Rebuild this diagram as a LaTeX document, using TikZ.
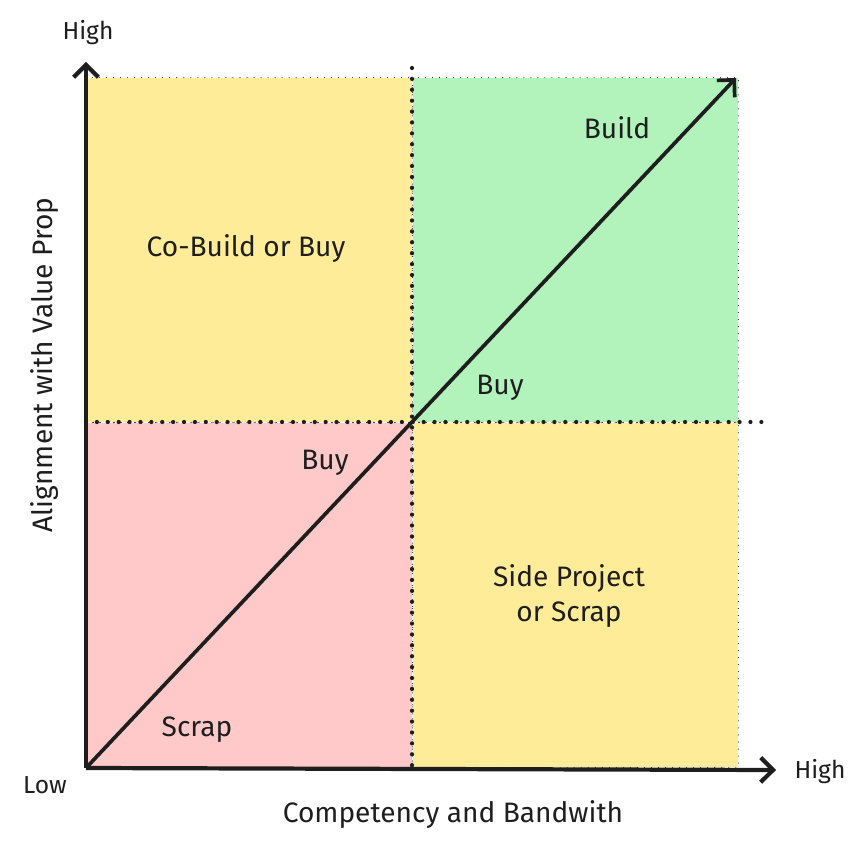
\documentclass[tikz,border=0pt]{standalone}
\usepackage{fontspec}
\setmainfont{Fira Sans}
\usepackage{tikz}
\usetikzlibrary{arrows.meta,positioning}

\definecolor{quadyellow}{HTML}{FFEC99}
\definecolor{quadgreen}{HTML}{B2F2BB}
\definecolor{quadred}{HTML}{FFC9C9}
\definecolor{ink}{HTML}{1E1E1E}

\tikzstyle{quad} = [draw=ink, line width=0.6pt, dash pattern=on 0pt off 4pt, line cap=round, minimum width=6.52cm, minimum height=6.9cm, inner sep=0pt]
\tikzstyle{axis} = [ink, line width=2.4pt, -{Straight Barb[length=7pt,width=14pt]}]
\tikzstyle{divider} = [ink, line width=2.4pt, dash pattern=on 0pt off 6.2pt, line cap=round]
\tikzstyle{lbl} = [font=\fontsize{16}{20}\selectfont, text=ink, align=center]
\tikzstyle{ends} = [font=\fontsize{14}{17}\selectfont, text=ink]

\begin{document}
\begin{tikzpicture}[x=0.02cm, y=-0.02cm]
    \useasboundingbox (0,0) rectangle (868,854);

    % quadrants
    \node[quad, fill=quadyellow, anchor=north west] (cobuild) at (86,77) {};
    \node[quad, fill=quadgreen, anchor=north west] (build) at (412,77) {};
    \node[quad, fill=quadred, anchor=north west] (scrap) at (86,422) {};
    \node[quad, fill=quadyellow, anchor=north west] (side) at (412,422) {};

    % dividers
    \coordinate (vtop) at (412,68);
    \coordinate (vbot) at (412,768);
    \coordinate (hleft) at (86,422);
    \coordinate (hright) at (768,422);
    \draw[divider] (vtop) -- (vbot);
    \draw[divider] (hleft) -- (hright);

    % axes
    \coordinate (origin) at (86,768);
    \coordinate (ytip) at (86,62);
    \coordinate (xtip) at (776,770);
    \coordinate (dtip) at (736,78);
    \draw[axis] (origin) -- (ytip);
    \draw[axis] (origin) -- (xtip);
    \draw[axis, line width=2.1pt] (origin) -- (dtip);

    % axis ends
    \node[ends] (yhigh) at (88,33) {High};
    \node[ends] (xhigh) at (820,772) {High};
    \node[ends] (low) at (45,785) {Low};
    \node[lbl] (xlabel) at (453,815) {Competency and Bandwith};
    \node[lbl, rotate=90] (ylabel) at (45,365) {Alignment with Value Prop};

    % quadrant labels
    \node[lbl] (tcobuild) at (246,249) {Co-Build or Buy};
    \node[lbl] (tbuild) at (617,128) {Build};
    \node[lbl] (tbuyhi) at (500,388) {Buy};
    \node[lbl] (tbuylo) at (325,463) {Buy};
    \node[lbl] (tside) at (569,596) {Side Project\\or Scrap};
    \node[lbl] (tscrap) at (197,730) {Scrap};
\end{tikzpicture}
\end{document}
